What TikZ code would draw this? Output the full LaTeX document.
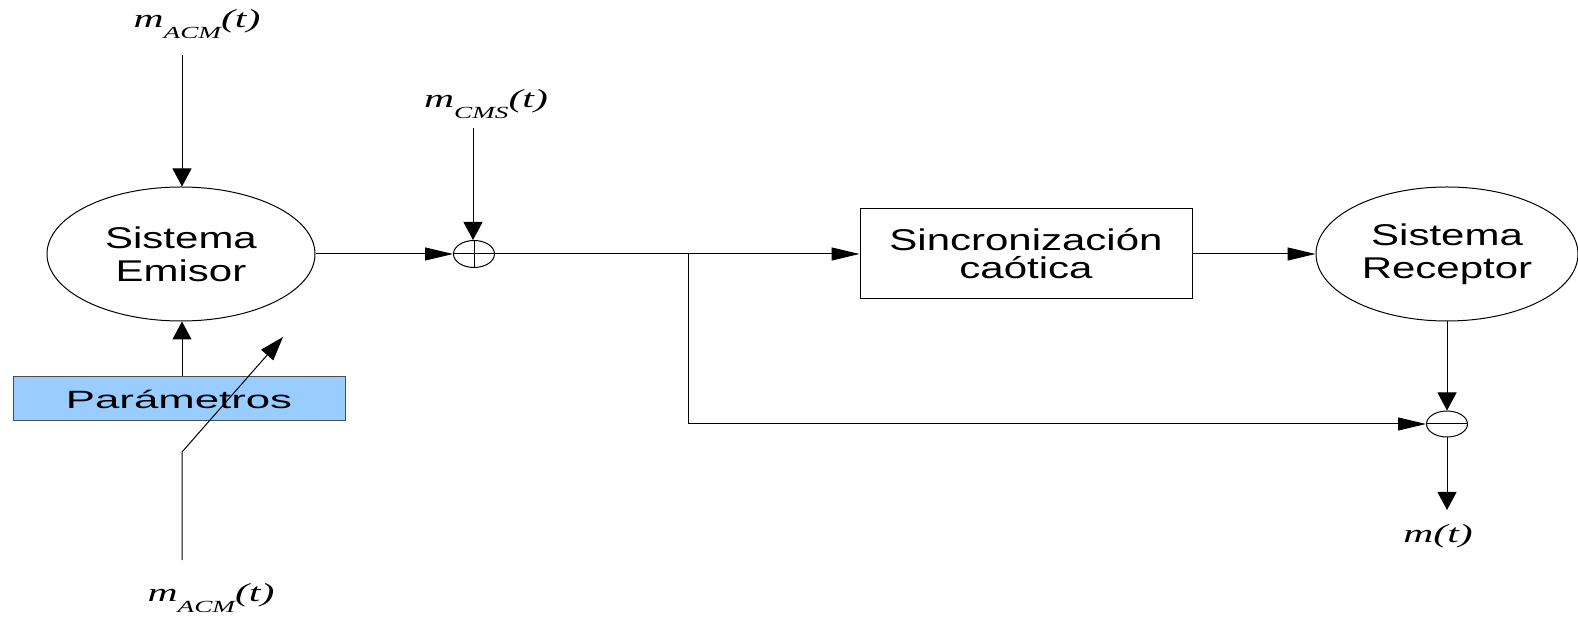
\documentclass[tikz,border=0pt]{standalone}
\usepackage{fontspec}
\setmainfont{Liberation Sans}
\newfontfamily\boxfont{Liberation Sans}[FakeStretch=1.4]
\newfontfamily\parfont{Liberation Sans}[FakeStretch=1.75]
\newfontfamily\lblfont{Liberation Serif}[FakeStretch=1.6]
\usetikzlibrary{shapes.geometric,arrows.meta}
\definecolor{parblue}{RGB}{153,204,255}
\newcommand{\sigm}[1]{{\lblfont\itshape m\raisebox{-0.42em}{\fontsize{8.5pt}{8.5pt}\selectfont #1}(t)}}

\begin{document}
\begin{tikzpicture}[x=0.5pt,y=-0.5pt,line width=0.5pt,
	harrow/.style={-{Triangle[length=14pt,width=6.5pt]}},
	varrow/.style={-{Triangle[length=9pt,width=9.5pt]}},
	darrow/.style={-{Triangle[length=12pt,width=8pt]}},
	sysnode/.style={draw,ellipse,inner sep=0pt,align=center,
		minimum width=134pt,minimum height=67pt,
		font={\boxfont\fontsize{15pt}{16.5pt}\selectfont}},
	opnode/.style={draw,ellipse,inner sep=0pt,minimum width=20.5pt,minimum height=13.5pt},
	lbl/.style={inner sep=0pt,font={\fontsize{13pt}{14pt}\selectfont}}]
		\useasboundingbox (0,0) rectangle (1578,619);
		% blocks
		\node[sysnode] (emisor) at (181,254) {Sistema\\Emisor};
		\node[sysnode,minimum width=131pt] (recep) at (1447,254) {Sistema\\Receptor};
		\node[draw,inner sep=0pt,align=center,minimum width=166pt,minimum height=45pt,
			font={\boxfont\fontsize{15pt}{14pt}\selectfont}] (sinc) at (1026,254) {Sincronización\\caótica};
		\node[draw=black!70,fill=parblue,inner sep=0pt,minimum width=166pt,minimum height=22pt,
			font={\parfont\fontsize{12.5pt}{14pt}\selectfont}] (param) at (179,399) {Parámetros};
		% sum and difference
		\node[opnode] (sum) at (474,254) {};
		\draw (sum.north) -- (sum.south);
		\draw (sum.west) -- (sum.east);
		\node[opnode,minimum height=13pt] (dif) at (1447,424) {};
		\draw (dif.west) -- (dif.east);
		% labels
		\node[lbl] (lacm) at (197,24) {\sigm{ACM}};
		\node[lbl] (lcms) at (486,104) {\sigm{CMS}};
		\node[lbl] (lacmb) at (211,598) {\sigm{ACM}};
		\node[lbl] (lm) at (1438,536) {{\lblfont\itshape m(t)}};
		\coordinate (ain) at (182,55);
		\coordinate (cin) at (473,128);
		\coordinate (br) at (688,254);
		\coordinate (dstart) at (182,560);
		\coordinate (dbend) at (182,452);
		\coordinate (dtip) at (283,337);
		\coordinate (out) at (1447,510);
		% connectors
		\draw[varrow] (ain) -- (ain |- emisor.north);
		\draw[varrow] (param.north -| ain) -- (ain |- emisor.south);
		\draw[darrow] (dstart) -- (dbend) -- (dtip);
		\draw[harrow] (emisor.east) -- (sum.west);
		\draw[varrow] (cin) -- (cin |- sum.north);
		\draw (sum.east) -- (br);
		\draw[harrow] (br) -- (sinc.west);
		\draw[harrow] (br) |- (dif.west);
		\draw[harrow] (sinc.east) -- (recep.west);
		\draw[varrow] (recep.south) -- (dif.north);
		\draw[varrow] (dif.south) -- (out);
\end{tikzpicture}
\end{document}
